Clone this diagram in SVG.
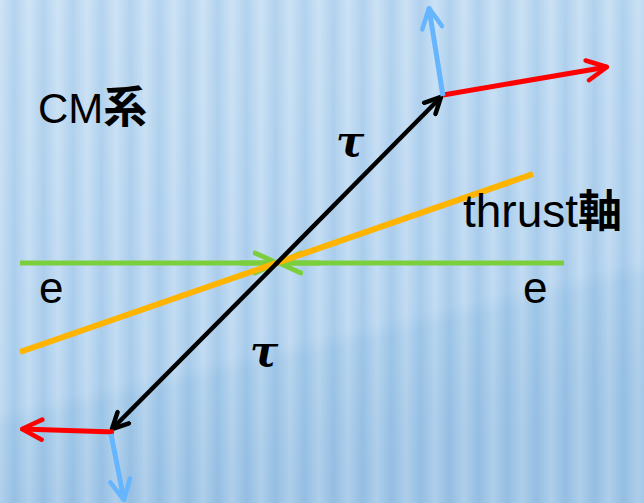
<svg xmlns="http://www.w3.org/2000/svg" width="644" height="503" viewBox="0 0 644 503">
<defs>
<linearGradient id="bg" x1="0" y1="0" x2="0.3" y2="1">
<stop offset="0" stop-color="#c4def4"/>
<stop offset="0.75" stop-color="#b3d3ef"/>
<stop offset="0.78" stop-color="#a6cbea"/>
<stop offset="1" stop-color="#9cc3e5"/>
</linearGradient>
<linearGradient id="st" x1="0" y1="0" x2="1" y2="0">
<stop offset="0" stop-color="#ffffff" stop-opacity="0.18"/>
<stop offset="0.5" stop-color="#6fa6d6" stop-opacity="0.18"/>
<stop offset="1" stop-color="#ffffff" stop-opacity="0.18"/>
</linearGradient>
<pattern id="stripes" width="29" height="503" patternUnits="userSpaceOnUse">
<rect width="29" height="503" fill="url(#st)"/>
</pattern>
<marker id="hk" viewBox="0 0 20 20" refX="18" refY="10" markerWidth="20" markerHeight="20" markerUnits="userSpaceOnUse" orient="auto">
<path d="M2,2 L18,10 L2,18" fill="none" stroke="#000" stroke-width="4.5" stroke-linecap="round" stroke-linejoin="round"/>
</marker>
<marker id="hr" viewBox="0 0 26 26" refX="24" refY="13" markerWidth="26" markerHeight="26" markerUnits="userSpaceOnUse" orient="auto">
<path d="M4,3 L24,13 L4,23" fill="none" stroke="#ff0000" stroke-width="4.5" stroke-linecap="round" stroke-linejoin="round"/>
</marker>
<marker id="hb" viewBox="0 0 26 26" refX="24" refY="13" markerWidth="26" markerHeight="26" markerUnits="userSpaceOnUse" orient="auto">
<path d="M4,3 L24,13 L4,23" fill="none" stroke="#66b5ff" stroke-width="4.5" stroke-linecap="round" stroke-linejoin="round"/>
</marker>
<marker id="hg" viewBox="0 0 26 26" refX="24" refY="13" markerWidth="26" markerHeight="26" markerUnits="userSpaceOnUse" orient="auto">
<path d="M2,3 L24,13 L2,23" fill="none" stroke="#7ccf3c" stroke-width="5" stroke-linecap="round" stroke-linejoin="round"/>
</marker>
<style>
.lbl{font-family:"Liberation Sans",Arial,sans-serif;font-size:42px;fill:#000}
.cjk{font-family:"Noto Sans CJK JP",sans-serif;font-weight:bold;font-size:44px}
.tau{font-family:"DejaVu Serif","Liberation Serif",serif;font-style:italic;font-weight:bold;font-size:42px;fill:#000}
</style>
</defs>
<rect width="644" height="503" fill="url(#bg)"/>
<rect width="644" height="503" fill="url(#stripes)"/>
<g id="connectors">
<line id="e-axis" x1="20" y1="263" x2="564" y2="263" stroke="#7ccf3c" stroke-width="5"/>
<line x1="240" y1="263" x2="277" y2="263" stroke="#7ccf3c" stroke-width="5" marker-end="url(#hg)"/>
<line x1="320" y1="263" x2="279" y2="263" stroke="#7ccf3c" stroke-width="5" marker-end="url(#hg)"/>
<line id="thrust-axis" x1="20" y1="352" x2="533" y2="174" stroke="#ffb400" stroke-width="6"/>
<line id="tau-top" x1="276" y1="264" x2="441" y2="97" stroke="#000" stroke-width="4.5" marker-end="url(#hk)"/>
<line id="tau-bottom" x1="278" y1="262" x2="112" y2="429" stroke="#000" stroke-width="4.5" marker-end="url(#hk)"/>
<line id="red-top" x1="443" y1="95" x2="607" y2="67" stroke="#ff0000" stroke-width="5" marker-end="url(#hr)"/>
<line id="red-bottom" x1="114" y1="432" x2="22" y2="429" stroke="#ff0000" stroke-width="5" marker-end="url(#hr)"/>
<line id="blue-top" x1="443" y1="96" x2="429" y2="8" stroke="#66b5ff" stroke-width="5" marker-end="url(#hb)"/>
<line id="blue-bottom" x1="111" y1="434" x2="124" y2="500" stroke="#66b5ff" stroke-width="5" marker-end="url(#hb)"/>
</g>
<g id="label-cm"><text class="lbl" x="38" y="123">CM<tspan class="cjk">系</tspan></text></g>
<g id="label-thrust"><text class="lbl" x="463" y="227" style="font-size:46px">thrust<tspan class="cjk">軸</tspan></text></g>
<g id="label-e-left"><text class="lbl" x="39" y="303" style="font-size:44px">e</text></g>
<g id="label-e-right"><text class="lbl" x="523" y="303" style="font-size:44px">e</text></g>
<g id="label-tau-top"><text class="tau" x="336" y="156">τ</text></g>
<g id="label-tau-bottom"><text class="tau" x="250" y="366">τ</text></g>
</svg>
